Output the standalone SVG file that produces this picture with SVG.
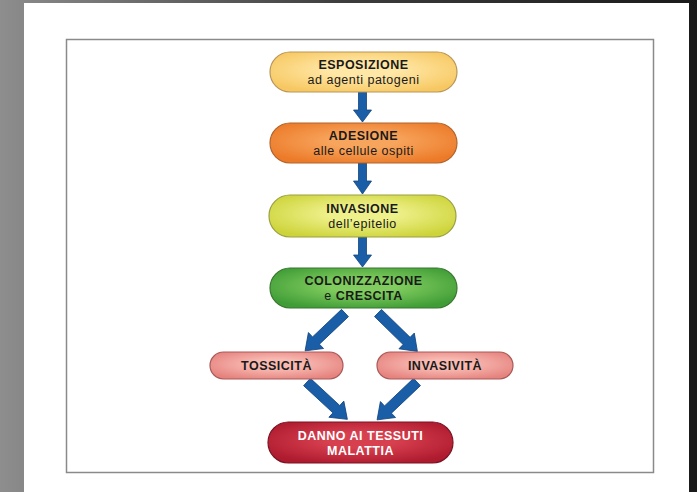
<svg xmlns="http://www.w3.org/2000/svg" width="697" height="492" viewBox="0 0 697 492">
<defs>
<linearGradient id="bg" x1="0" y1="0" x2="1" y2="0">
<stop offset="0" stop-color="#8e8e8e"/><stop offset="0.04" stop-color="#868686"/><stop offset="0.5" stop-color="#3c3c3c"/><stop offset="1" stop-color="#1a1a1a"/>
</linearGradient>
<radialGradient id="gEsp" cx="0.5" cy="0.45" r="0.6"><stop offset="0.3" stop-color="#FFE7A6"/><stop offset="1" stop-color="#F7C862"/></radialGradient>
<radialGradient id="gAde" cx="0.5" cy="0.45" r="0.6"><stop offset="0.3" stop-color="#F7A45C"/><stop offset="1" stop-color="#EC7A28"/></radialGradient>
<radialGradient id="gInv" cx="0.5" cy="0.45" r="0.6"><stop offset="0.3" stop-color="#EEF08A"/><stop offset="1" stop-color="#CDD43A"/></radialGradient>
<radialGradient id="gCol" cx="0.5" cy="0.45" r="0.6"><stop offset="0.3" stop-color="#80CC5E"/><stop offset="1" stop-color="#3F9C36"/></radialGradient>
<radialGradient id="gPink" cx="0.5" cy="0.45" r="0.6"><stop offset="0.3" stop-color="#F8BAB2"/><stop offset="1" stop-color="#E6837F"/></radialGradient>
<radialGradient id="gRed" cx="0.5" cy="0.45" r="0.6"><stop offset="0.3" stop-color="#D7404F"/><stop offset="1" stop-color="#AE1A2E"/></radialGradient>
<style>
.pill{stroke-width:1.2}
.t{font-family:"Liberation Sans",Arial,sans-serif;font-size:12.5px;letter-spacing:0.5px;text-anchor:middle;fill:#1a1a1a}
.b{font-weight:bold}
.w{fill:#ffffff}
.arr{fill:#1B5EA8;stroke:#12457e;stroke-width:0.8}
</style>
</defs>
<rect x="0" y="0" width="697" height="492" fill="url(#bg)"/>
<rect x="24" y="3" width="665" height="489" fill="#ffffff"/>
<rect x="66.5" y="39.5" width="587" height="433" fill="#ffffff" stroke="#8a8a8a" stroke-width="1.5"/>

<g id="connectors">
<polygon class="arr" transform="translate(362.5,92) rotate(90)" points="0,-4 18,-4 18,-9 30,0 18,9 18,4 0,4"/>
<polygon class="arr" transform="translate(362.5,163) rotate(90)" points="0,-4 18,-4 18,-9 31,0 18,9 18,4 0,4"/>
<polygon class="arr" transform="translate(362.5,237) rotate(90)" points="0,-4 18,-4 18,-9 30,0 18,9 18,4 0,4"/>
<polygon class="arr" transform="translate(345,313) rotate(136.5)" points="0,-5 40,-5 40,-11 55,0 40,11 40,5 0,5"/>
<polygon class="arr" transform="translate(378,313) rotate(44.3)" points="0,-5 40,-5 40,-11 55,0 40,11 40,5 0,5"/>
<polygon class="arr" transform="translate(307,382) rotate(42.8)" points="0,-5 40,-5 40,-11 55,0 40,11 40,5 0,5"/>
<polygon class="arr" transform="translate(417,382) rotate(136.5)" points="0,-5 40,-5 40,-11 55,0 40,11 40,5 0,5"/>
</g>

<g id="esposizione">
<rect class="pill" x="270" y="52" width="187" height="40" rx="20" fill="url(#gEsp)" stroke="#B8965A"/>
<text class="t b" x="363.5" y="69">ESPOSIZIONE</text>
<text class="t" x="363.5" y="84">ad agenti patogeni</text>
</g>
<g id="adesione">
<rect class="pill" x="270" y="123" width="187" height="40" rx="20" fill="url(#gAde)" stroke="#B0642C"/>
<text class="t b" x="363.5" y="140">ADESIONE</text>
<text class="t" x="363.5" y="155">alle cellule ospiti</text>
</g>
<g id="invasione">
<rect class="pill" x="269" y="195" width="187" height="42" rx="21" fill="url(#gInv)" stroke="#9AA040"/>
<text class="t b" x="362.5" y="213">INVASIONE</text>
<text class="t" x="362.5" y="228">dell’epitelio</text>
</g>
<g id="colonizzazione">
<rect class="pill" x="270" y="268" width="187" height="40" rx="20" fill="url(#gCol)" stroke="#3A7630"/>
<text class="t b" x="363.5" y="285">COLONIZZAZIONE</text>
<text class="t" x="363.5" y="300">e <tspan class="b">CRESCITA</tspan></text>
</g>
<g id="tossicita">
<rect class="pill" x="210" y="352" width="133" height="27" rx="13.5" fill="url(#gPink)" stroke="#A85A58"/>
<text class="t b" x="276.5" y="370">TOSSICITÀ</text>
</g>
<g id="invasivita">
<rect class="pill" x="377" y="352" width="136" height="27" rx="13.5" fill="url(#gPink)" stroke="#A85A58"/>
<text class="t b" x="445" y="370">INVASIVITÀ</text>
</g>
<g id="danno">
<rect class="pill" x="268" y="422" width="185" height="41" rx="20.5" fill="url(#gRed)" stroke="#7A1424"/>
<text class="t b w" x="360.5" y="440">DANNO AI TESSUTI</text>
<text class="t b w" x="360.5" y="455">MALATTIA</text>
</g>
</svg>
